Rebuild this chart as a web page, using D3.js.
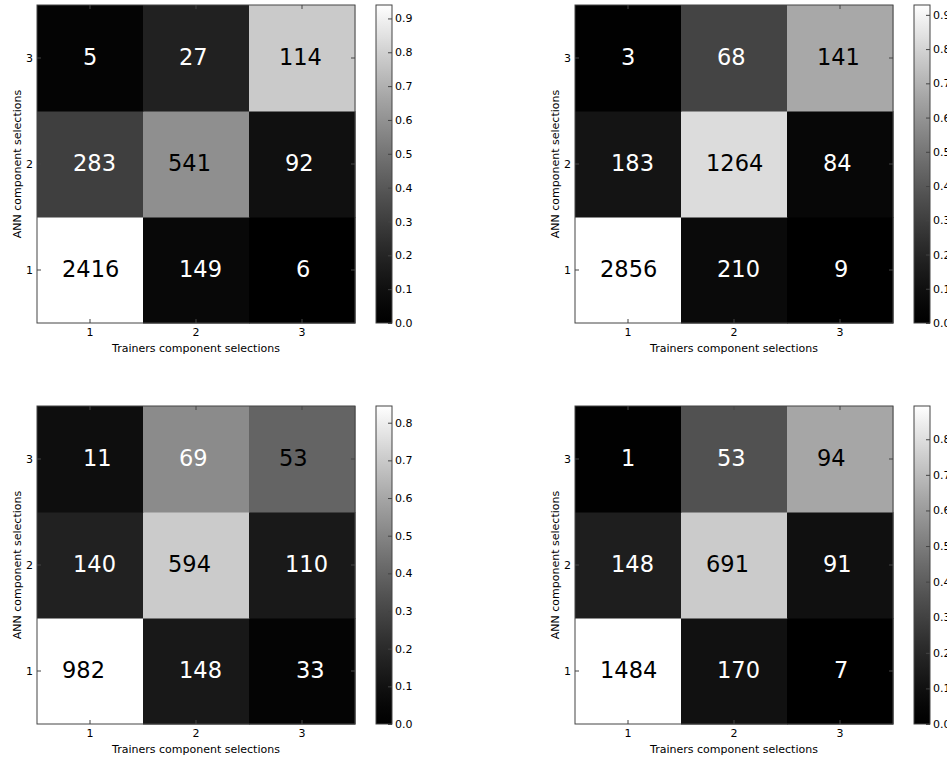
<!DOCTYPE html>
<html>
<head>
<meta charset="utf-8">
<script src="https://cdn.jsdelivr.net/npm/d3@7"></script>
<style>
  html, body { margin: 0; padding: 0; background: #fff; }
  svg { display: block; }
  text { font-family: "DejaVu Sans", sans-serif; }
</style>
</head>
<body>
<svg id="chart" width="947" height="758"></svg>
<script>
// ---------------- data ----------------
const trainerCats = ["1", "2", "3"];   // x axis: Trainers component selections
const annCats = ["1", "2", "3"];       // y axis: ANN component selections (bottom -> top)

// counts[row = ANN selection][col = Trainer selection]
const countsTopLeft     = [[2416, 149, 6],  [283, 541, 92],   [5, 27, 114]];
const countsTopRight    = [[2856, 210, 9],  [183, 1264, 84],  [3, 68, 141]];
const countsBottomLeft  = [[982, 148, 33],  [140, 594, 110],  [11, 69, 53]];
const countsBottomRight = [[1484, 170, 7],  [148, 691, 91],   [1, 53, 94]];

const xLabel = "Trainers component selections";
const yLabel = "ANN component selections";

// ---------------- layout ----------------
const SIZE = 318;
const GAMMA = 1.25;
const panels = [
  { counts: countsTopLeft,     x0: 37,  y0: 5 },
  { counts: countsTopRight,    x0: 575, y0: 5 },
  { counts: countsBottomLeft,  x0: 37,  y0: 406 },
  { counts: countsBottomRight, x0: 575, y0: 406 }
];
// left inset of each cell label, as a fraction of the cell width (row index from bottom)
const LABEL_INSET = [
  [0.236, 0.34, 0.443],
  [0.34, 0.236, 0.34],
  [0.434, 0.34, 0.283]
];

const svg = d3.select("#chart");
const defs = svg.append("defs");
const grad = defs.append("linearGradient")
  .attr("id", "grayGrad").attr("x1", 0).attr("y1", 1).attr("x2", 0).attr("y2", 0);
const gradShade = d3.scalePow().exponent(GAMMA).domain([0, 1]).range(["#000", "#fff"]).interpolate(d3.interpolateRgb);
d3.range(0, 1.0001, 0.05).forEach(t => {
  grad.append("stop").attr("offset", t).attr("stop-color", gradShade(Math.min(t, 1)));
});

const spineColor = "#444";

panels.forEach((p, pi) => {
  const norm = p.counts.map(row => {
    const s = d3.sum(row);
    return row.map(v => v / s);
  });
  const vmax = d3.max(norm.flat());
  const color = d3.scalePow().exponent(GAMMA).domain([0, vmax]).range(["#000", "#fff"]).interpolate(d3.interpolateRgb);

  const x = d3.scaleBand().domain(trainerCats).range([p.x0, p.x0 + SIZE]);
  const y = d3.scaleBand().domain(annCats).range([p.y0 + SIZE, p.y0]);

  const g = svg.append("g");

  const cells = [];
  p.counts.forEach((row, ri) => row.forEach((v, ci) => {
    cells.push({ ri, ci, count: v, val: norm[ri][ci] });
  }));

  g.selectAll("rect.cell").data(cells).join("rect")
    .attr("class", "cell")
    .attr("x", d => x(trainerCats[d.ci]))
    .attr("y", d => y(annCats[d.ri]))
    .attr("width", x.bandwidth() + 0.5)
    .attr("height", y.bandwidth() + 0.5)
    .attr("fill", d => color(d.val));

  g.selectAll("text.cnt").data(cells).join("text")
    .attr("class", "cnt")
    .attr("x", d => x(trainerCats[d.ci]) + LABEL_INSET[d.ri][d.ci] * x.bandwidth())
    .attr("y", d => y(annCats[d.ri]) + y.bandwidth() / 2 + 7)
    .attr("font-size", 22.5)
    .attr("fill", d => d.ri === d.ci ? "#000" : "#fff")
    .text(d => d.count);

  // axes with inward ticks
  const axB = g.append("g").attr("transform", `translate(0,${p.y0 + SIZE})`)
    .call(d3.axisBottom(x).tickSize(-4).tickSizeOuter(0).tickPadding(5));
  const axT = g.append("g").attr("transform", `translate(0,${p.y0})`)
    .call(d3.axisTop(x).tickSize(-4).tickSizeOuter(0).tickFormat(""));
  const axL = g.append("g").attr("transform", `translate(${p.x0},0)`)
    .call(d3.axisLeft(y).tickSize(-4).tickSizeOuter(0).tickPadding(4));
  const axR = g.append("g").attr("transform", `translate(${p.x0 + SIZE},0)`)
    .call(d3.axisRight(y).tickSize(-4).tickSizeOuter(0).tickFormat(""));
  [axB, axT, axL, axR].forEach(a => {
    a.select(".domain").remove();
    a.selectAll(".tick line").attr("stroke", spineColor);
    a.selectAll(".tick text").attr("font-size", 11).attr("fill", "#000")
      .attr("font-family", "DejaVu Sans, sans-serif");
  });

  g.append("rect")
    .attr("x", p.x0).attr("y", p.y0).attr("width", SIZE).attr("height", SIZE)
    .attr("fill", "none").attr("stroke", spineColor).attr("stroke-width", 1);

  g.append("text")
    .attr("x", p.x0 + SIZE / 2).attr("y", p.y0 + SIZE + 29)
    .attr("text-anchor", "middle").attr("font-size", 11).attr("fill", "#000")
    .text(xLabel);
  g.append("text")
    .attr("transform", `translate(${p.x0 - 16},${p.y0 + SIZE / 2}) rotate(-90)`)
    .attr("text-anchor", "middle").attr("font-size", 11).attr("fill", "#000")
    .text(yLabel);

  // colorbar
  const cbX = p.x0 + SIZE + 21, cbW = 16;
  const cbY = d3.scaleLinear().domain([0, vmax]).range([p.y0 + SIZE, p.y0]);
  g.append("rect")
    .attr("x", cbX).attr("y", p.y0).attr("width", cbW).attr("height", SIZE)
    .attr("fill", "url(#grayGrad)");
  const cbTicks = d3.range(0, vmax + 1e-9, 0.1);
  const cbAx = g.append("g").attr("transform", `translate(${cbX + cbW},0)`)
    .call(d3.axisRight(cbY).tickValues(cbTicks).tickFormat(d3.format(".1f"))
      .tickSize(-4).tickSizeOuter(0).tickPadding(3));
  cbAx.select(".domain").remove();
  cbAx.selectAll(".tick line").attr("stroke", spineColor);
  cbAx.selectAll(".tick text").attr("font-size", 11).attr("fill", "#000")
    .attr("font-family", "DejaVu Sans, sans-serif");
  g.append("rect")
    .attr("x", cbX).attr("y", p.y0).attr("width", cbW).attr("height", SIZE)
    .attr("fill", "none").attr("stroke", spineColor).attr("stroke-width", 1);
});
</script>
</body>
</html>
